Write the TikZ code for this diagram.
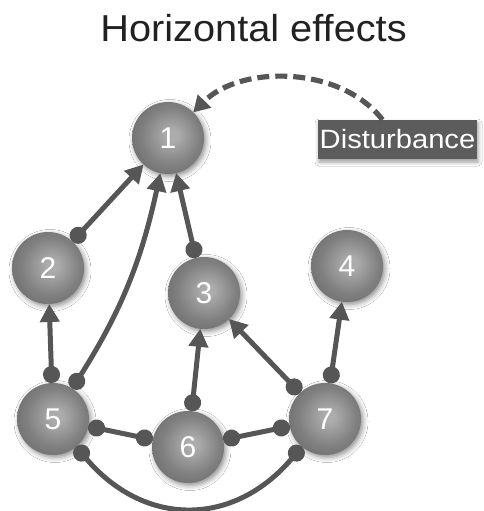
\documentclass[tikz,border=0pt]{standalone}
\usepackage{fontspec}
\setmainfont{Liberation Sans}
\newfontfamily\titlefont[FakeStretch=1.06]{Liberation Sans}
\newfontfamily\boxfont[FakeStretch=1.1]{Liberation Sans}
\usetikzlibrary{arrows.meta,shadows.blur}
\definecolor{linegray}{RGB}{86,86,86}
\definecolor{boxgray}{RGB}{92,92,92}
\definecolor{balllight}{RGB}{172,172,172}
\definecolor{ballmid}{RGB}{128,128,128}
\definecolor{ballmidd}{RGB}{100,100,100}
\definecolor{balldark}{RGB}{72,72,72}
\pgfdeclareradialshading{sphere}{\pgfpoint{3bp}{2bp}}{color(0bp)=(balllight); color(4bp)=(balllight); color(20bp)=(ballmid); color(36bp)=(ballmidd); color(50bp)=(balldark)}
\tikzset{
  ball/.style={circle, minimum size=72pt, inner sep=0pt, outer sep=0pt, shading=sphere, text=white,
    font=\fontsize{30}{30}\selectfont,
    blur shadow={shadow xshift=2pt, shadow yshift=-2.5pt, shadow blur radius=5pt, shadow opacity=45}},
  conn/.style={draw=linegray, line width=5pt, {Circle[length=17pt]}-{Triangle[length=18pt,width=19pt]}},
  dots/.style={draw=linegray, line width=5pt, {Circle[length=17pt]}-{Circle[length=17pt]}},
  dasharrow/.style={draw=linegray, line width=5.2pt, dash pattern=on 12pt off 6pt, -{Triangle[length=16pt,width=18pt]}},
  distbox/.style={fill=boxgray, text=white, minimum width=159pt, minimum height=39pt, inner sep=0pt,
    font=\boxfont\fontsize{26.5}{27}\selectfont,
    blur shadow={shadow xshift=1pt, shadow yshift=-3pt, shadow blur radius=4pt, shadow opacity=40}},
  titlestyle/.style={anchor=base, text=black!87, font=\titlefont\fontsize{37.5}{40}\selectfont}
}
\begin{document}
\begin{tikzpicture}[x=1pt,y=1pt]
\fill[white] (0,0) rectangle (483,-511);
\useasboundingbox (0,0) rectangle (483,-511);
\node[titlestyle] (title) at (253.5,-42) {Horizontal effects};
\node[ball] (n1) at (168,-138) {1};
\node[ball] (n2) at (48,-268) {2};
\node[ball] (n3) at (204,-293) {3};
\node[ball] (n4) at (347,-266) {4};
\node[ball] (n5) at (53,-419) {5};
\node[ball] (n6) at (188,-447) {6};
\node[ball] (n7) at (325,-419) {7};
\node[distbox] (dist) at (397.5,-139.5) {Disturbance};
\draw[conn] (n2) -- (n1);
\draw[conn] (n5) to[bend right=10] (n1);
\draw[conn] (n3) -- (n1);
\draw[conn] (n5) -- (n2);
\draw[conn] (n6) -- (n3);
\draw[conn] (n7) -- (n3);
\draw[conn] (n7) -- (n4);
\draw[dots] (n5) -- (n6);
\draw[dots] (n6) -- (n7);
\draw[dots] (n5) to[out=-50,in=-130,looseness=1.2] (n7);
\coordinate (dstart) at ([xshift=-15pt]dist.north);
\draw[dasharrow] (dstart) .. controls (340,-65) and (240,-65) .. (n1);
\end{tikzpicture}
\end{document}
